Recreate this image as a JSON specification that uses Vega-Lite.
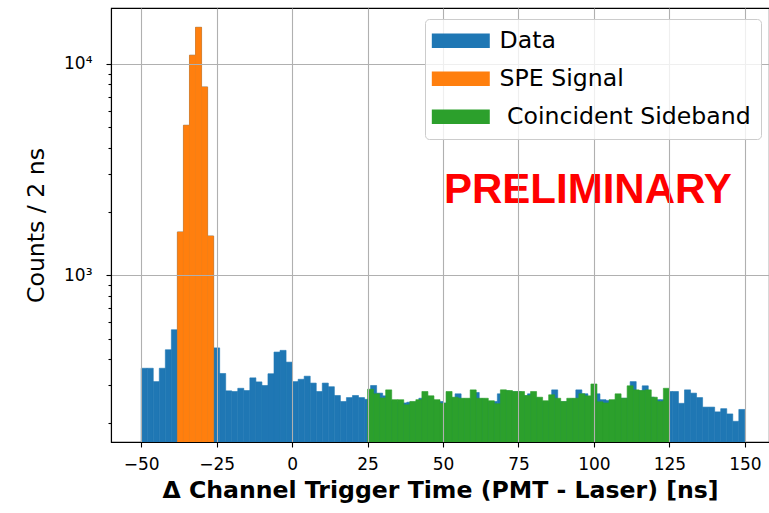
{
  "$schema": "https://vega.github.io/schema/vega-lite/v6.json",
  "width": 658,
  "height": 434,
  "autosize": {"type": "none"},
  "padding": {"left": 111, "top": 8, "right": 0, "bottom": 71},
  "background": "white",
  "config": {
    "view": {"stroke": "black", "strokeWidth": 1.1},
    "font": "DejaVu Sans",
    "axis": {"labelFont": "DejaVu Sans", "titleFont": "DejaVu Sans"}
  },
  "datasets": {
    "hist": [
      {"series": "Data", "start": -50, "end": -48, "count": 362},
      {"series": "Data", "start": -48, "end": -46, "count": 362},
      {"series": "Data", "start": -46, "end": -44, "count": 313},
      {"series": "Data", "start": -44, "end": -42, "count": 362},
      {"series": "Data", "start": -42, "end": -40, "count": 443},
      {"series": "Data", "start": -40, "end": -38, "count": 551},
      {"series": "Data", "start": -38, "end": -36, "count": 1600},
      {"series": "Data", "start": -36, "end": -34, "count": 5120},
      {"series": "Data", "start": -34, "end": -32, "count": 10990},
      {"series": "Data", "start": -32, "end": -30, "count": 14900},
      {"series": "Data", "start": -30, "end": -28, "count": 7780},
      {"series": "Data", "start": -28, "end": -26, "count": 1531},
      {"series": "Data", "start": -26, "end": -24, "count": 452},
      {"series": "Data", "start": -24, "end": -22, "count": 342},
      {"series": "Data", "start": -22, "end": -20, "count": 283},
      {"series": "Data", "start": -20, "end": -18, "count": 281},
      {"series": "Data", "start": -18, "end": -16, "count": 291},
      {"series": "Data", "start": -16, "end": -14, "count": 284},
      {"series": "Data", "start": -14, "end": -12, "count": 326},
      {"series": "Data", "start": -12, "end": -10, "count": 312},
      {"series": "Data", "start": -10, "end": -8, "count": 300},
      {"series": "Data", "start": -8, "end": -6, "count": 341},
      {"series": "Data", "start": -6, "end": -4, "count": 432},
      {"series": "Data", "start": -4, "end": -2, "count": 440},
      {"series": "Data", "start": -2, "end": 0, "count": 387},
      {"series": "Data", "start": 0, "end": 2, "count": 313},
      {"series": "Data", "start": 2, "end": 4, "count": 321},
      {"series": "Data", "start": 4, "end": 6, "count": 332},
      {"series": "Data", "start": 6, "end": 8, "count": 308},
      {"series": "Data", "start": 8, "end": 10, "count": 281},
      {"series": "Data", "start": 10, "end": 12, "count": 308},
      {"series": "Data", "start": 12, "end": 14, "count": 296},
      {"series": "Data", "start": 14, "end": 16, "count": 269},
      {"series": "Data", "start": 16, "end": 18, "count": 252},
      {"series": "Data", "start": 18, "end": 20, "count": 263},
      {"series": "Data", "start": 20, "end": 22, "count": 269},
      {"series": "Data", "start": 22, "end": 24, "count": 263},
      {"series": "Data", "start": 24, "end": 26, "count": 258},
      {"series": "Data", "start": 26, "end": 28, "count": 300},
      {"series": "Data", "start": 28, "end": 30, "count": 276},
      {"series": "Data", "start": 30, "end": 32, "count": 268},
      {"series": "Data", "start": 32, "end": 34, "count": 254},
      {"series": "Data", "start": 34, "end": 36, "count": 251},
      {"series": "Data", "start": 36, "end": 38, "count": 248},
      {"series": "Data", "start": 38, "end": 40, "count": 250},
      {"series": "Data", "start": 40, "end": 42, "count": 250},
      {"series": "Data", "start": 42, "end": 44, "count": 261},
      {"series": "Data", "start": 44, "end": 46, "count": 265},
      {"series": "Data", "start": 46, "end": 48, "count": 254},
      {"series": "Data", "start": 48, "end": 50, "count": 252},
      {"series": "Data", "start": 50, "end": 52, "count": 248},
      {"series": "Data", "start": 52, "end": 54, "count": 262},
      {"series": "Data", "start": 54, "end": 56, "count": 274},
      {"series": "Data", "start": 56, "end": 58, "count": 259},
      {"series": "Data", "start": 58, "end": 60, "count": 259},
      {"series": "Data", "start": 60, "end": 62, "count": 278},
      {"series": "Data", "start": 62, "end": 64, "count": 259},
      {"series": "Data", "start": 64, "end": 66, "count": 252},
      {"series": "Data", "start": 66, "end": 68, "count": 252},
      {"series": "Data", "start": 68, "end": 70, "count": 274},
      {"series": "Data", "start": 70, "end": 72, "count": 283},
      {"series": "Data", "start": 72, "end": 74, "count": 280},
      {"series": "Data", "start": 74, "end": 76, "count": 280},
      {"series": "Data", "start": 76, "end": 78, "count": 268},
      {"series": "Data", "start": 78, "end": 80, "count": 274},
      {"series": "Data", "start": 80, "end": 82, "count": 262},
      {"series": "Data", "start": 82, "end": 84, "count": 252},
      {"series": "Data", "start": 84, "end": 86, "count": 252},
      {"series": "Data", "start": 86, "end": 88, "count": 286},
      {"series": "Data", "start": 88, "end": 90, "count": 251},
      {"series": "Data", "start": 90, "end": 92, "count": 251},
      {"series": "Data", "start": 92, "end": 94, "count": 259},
      {"series": "Data", "start": 94, "end": 96, "count": 286},
      {"series": "Data", "start": 96, "end": 98, "count": 274},
      {"series": "Data", "start": 98, "end": 100, "count": 266},
      {"series": "Data", "start": 100, "end": 102, "count": 274},
      {"series": "Data", "start": 102, "end": 104, "count": 257},
      {"series": "Data", "start": 104, "end": 106, "count": 255},
      {"series": "Data", "start": 106, "end": 108, "count": 255},
      {"series": "Data", "start": 108, "end": 110, "count": 261},
      {"series": "Data", "start": 110, "end": 112, "count": 261},
      {"series": "Data", "start": 112, "end": 114, "count": 313},
      {"series": "Data", "start": 114, "end": 116, "count": 283},
      {"series": "Data", "start": 116, "end": 118, "count": 299},
      {"series": "Data", "start": 118, "end": 120, "count": 264},
      {"series": "Data", "start": 120, "end": 122, "count": 257},
      {"series": "Data", "start": 122, "end": 124, "count": 257},
      {"series": "Data", "start": 124, "end": 126, "count": 281},
      {"series": "Data", "start": 126, "end": 128, "count": 281},
      {"series": "Data", "start": 128, "end": 130, "count": 247},
      {"series": "Data", "start": 130, "end": 132, "count": 286},
      {"series": "Data", "start": 132, "end": 134, "count": 276},
      {"series": "Data", "start": 134, "end": 136, "count": 263},
      {"series": "Data", "start": 136, "end": 138, "count": 237},
      {"series": "Data", "start": 138, "end": 140, "count": 237},
      {"series": "Data", "start": 140, "end": 142, "count": 225},
      {"series": "Data", "start": 142, "end": 144, "count": 233},
      {"series": "Data", "start": 144, "end": 146, "count": 220},
      {"series": "Data", "start": 146, "end": 148, "count": 203},
      {"series": "Data", "start": 148, "end": 150, "count": 231},
      {"series": "SPE Signal", "start": -38, "end": -36, "count": 1600},
      {"series": "SPE Signal", "start": -36, "end": -34, "count": 5120},
      {"series": "SPE Signal", "start": -34, "end": -32, "count": 10990},
      {"series": "SPE Signal", "start": -32, "end": -30, "count": 14900},
      {"series": "SPE Signal", "start": -30, "end": -28, "count": 7780},
      {"series": "SPE Signal", "start": -28, "end": -26, "count": 1531},
      {"series": "Coincident Sideband", "start": 25, "end": 27, "count": 288},
      {"series": "Coincident Sideband", "start": 27, "end": 29, "count": 274},
      {"series": "Coincident Sideband", "start": 29, "end": 31, "count": 262},
      {"series": "Coincident Sideband", "start": 31, "end": 33, "count": 286},
      {"series": "Coincident Sideband", "start": 33, "end": 35, "count": 257},
      {"series": "Coincident Sideband", "start": 35, "end": 37, "count": 257},
      {"series": "Coincident Sideband", "start": 37, "end": 39, "count": 243},
      {"series": "Coincident Sideband", "start": 39, "end": 41, "count": 252},
      {"series": "Coincident Sideband", "start": 41, "end": 43, "count": 257},
      {"series": "Coincident Sideband", "start": 43, "end": 45, "count": 281},
      {"series": "Coincident Sideband", "start": 45, "end": 47, "count": 268},
      {"series": "Coincident Sideband", "start": 47, "end": 49, "count": 257},
      {"series": "Coincident Sideband", "start": 49, "end": 51, "count": 247},
      {"series": "Coincident Sideband", "start": 51, "end": 53, "count": 281},
      {"series": "Coincident Sideband", "start": 53, "end": 55, "count": 264},
      {"series": "Coincident Sideband", "start": 55, "end": 57, "count": 261},
      {"series": "Coincident Sideband", "start": 57, "end": 59, "count": 261},
      {"series": "Coincident Sideband", "start": 59, "end": 61, "count": 286},
      {"series": "Coincident Sideband", "start": 61, "end": 63, "count": 261},
      {"series": "Coincident Sideband", "start": 63, "end": 65, "count": 261},
      {"series": "Coincident Sideband", "start": 65, "end": 67, "count": 254},
      {"series": "Coincident Sideband", "start": 67, "end": 69, "count": 246},
      {"series": "Coincident Sideband", "start": 69, "end": 71, "count": 286},
      {"series": "Coincident Sideband", "start": 71, "end": 73, "count": 284},
      {"series": "Coincident Sideband", "start": 73, "end": 75, "count": 281},
      {"series": "Coincident Sideband", "start": 75, "end": 77, "count": 281},
      {"series": "Coincident Sideband", "start": 77, "end": 79, "count": 269},
      {"series": "Coincident Sideband", "start": 79, "end": 81, "count": 281},
      {"series": "Coincident Sideband", "start": 81, "end": 83, "count": 264},
      {"series": "Coincident Sideband", "start": 83, "end": 85, "count": 254},
      {"series": "Coincident Sideband", "start": 85, "end": 87, "count": 271},
      {"series": "Coincident Sideband", "start": 87, "end": 89, "count": 261},
      {"series": "Coincident Sideband", "start": 89, "end": 91, "count": 252},
      {"series": "Coincident Sideband", "start": 91, "end": 93, "count": 261},
      {"series": "Coincident Sideband", "start": 93, "end": 95, "count": 261},
      {"series": "Coincident Sideband", "start": 95, "end": 97, "count": 274},
      {"series": "Coincident Sideband", "start": 97, "end": 99, "count": 268},
      {"series": "Coincident Sideband", "start": 99, "end": 101, "count": 305},
      {"series": "Coincident Sideband", "start": 101, "end": 103, "count": 251},
      {"series": "Coincident Sideband", "start": 103, "end": 105, "count": 248},
      {"series": "Coincident Sideband", "start": 105, "end": 107, "count": 257},
      {"series": "Coincident Sideband", "start": 107, "end": 109, "count": 274},
      {"series": "Coincident Sideband", "start": 109, "end": 111, "count": 261},
      {"series": "Coincident Sideband", "start": 111, "end": 113, "count": 299},
      {"series": "Coincident Sideband", "start": 113, "end": 115, "count": 286},
      {"series": "Coincident Sideband", "start": 115, "end": 117, "count": 284},
      {"series": "Coincident Sideband", "start": 117, "end": 119, "count": 286},
      {"series": "Coincident Sideband", "start": 119, "end": 121, "count": 264},
      {"series": "Coincident Sideband", "start": 121, "end": 123, "count": 252},
      {"series": "Coincident Sideband", "start": 123, "end": 125, "count": 291}
    ],
    "note": [
      {"start": 98, "count": 2200, "label": "PRELIMINARY"}
    ]
  },
  "encoding": {
    "x": {
      "field": "start",
      "type": "quantitative",
      "scale": {"domain": [-60, 158], "nice": false, "zero": false},
      "axis": {
        "title": "Δ Channel Trigger Time (PMT - Laser) [ns]",
        "titleFontSize": 23.6,
        "titleFontWeight": "bold",
        "titleColor": "black",
        "titlePadding": 6,
        "values": [-50, -25, 0, 25, 50, 75, 100, 125, 150],
        "format": "d",
        "labelExpr": "datum.value < 0 ? '−' + abs(datum.value) : datum.label",
        "labelFontSize": 17,
        "labelColor": "black",
        "labelPadding": 9,
        "labelOverlap": false,
        "labelFlush": false,
        "tickColor": "black",
        "tickWidth": 1.1,
        "tickSize": 5,
        "grid": true,
        "gridColor": "#b0b0b0",
        "gridWidth": 1.1,
        "domainColor": "black",
        "domainWidth": 1.1,
        "zindex": 1
      }
    },
    "y": {
      "field": "count",
      "type": "quantitative",
      "stack": null,
      "scale": {"type": "log", "domain": [162, 18400], "nice": false},
      "axis": {
        "title": "Counts / 2 ns",
        "titleFontSize": 23.6,
        "titleFontWeight": "normal",
        "titleColor": "black",
        "titlePadding": 15,
        "values": [200, 300, 400, 500, 600, 700, 800, 900, 1000, 2000, 3000, 4000, 5000, 6000, 7000, 8000, 9000, 10000],
        "labelExpr": "datum.value == 1000 ? '10³' : (datum.value == 10000 ? '10⁴' : '')",
        "labelFontSize": 17,
        "labelColor": "black",
        "labelPadding": 14,
        "labelOverlap": false,
        "tickColor": "black",
        "tickWidth": 1.1,
        "tickSize": {"condition": {"test": "datum.value == 1000 || datum.value == 10000", "value": 5}, "value": 3},
        "grid": true,
        "gridColor": "#b0b0b0",
        "gridWidth": 1.1,
        "gridOpacity": {"condition": {"test": "datum.value == 1000 || datum.value == 10000", "value": 1}, "value": 0},
        "domainColor": "black",
        "domainWidth": 1.1,
        "zindex": 1
      }
    }
  },
  "layer": [
    {
      "data": {"name": "hist"},
      "mark": {"type": "bar", "opacity": 1, "strokeWidth": 0.6},
      "encoding": {
        "x2": {"field": "end"},
        "y2": {"datum": 162},
        "stroke": {
          "field": "series",
          "type": "nominal",
          "scale": {"domain": ["Data", "SPE Signal", "Coincident Sideband"], "range": ["#1f77b4", "#ff7f0e", "#2ca02c"]},
          "legend": null
        },
        "color": {
          "field": "series",
          "type": "nominal",
          "sort": null,
          "scale": {"domain": ["Data", "SPE Signal", "Coincident Sideband"], "range": ["#1f77b4", "#ff7f0e", "#2ca02c"]},
          "legend": {
            "title": null,
            "orient": "none",
            "legendX": 314,
            "legendY": 11,
            "symbolType": "M-4,-1H4V1H-4Z",
            "symbolSize": 210,
            "symbolOffset": 14,
            "symbolStrokeWidth": 0,
            "symbolOpacity": 1,
            "labelFont": "DejaVu Sans",
            "labelFontSize": 23.6,
            "labelColor": "black",
            "labelOffset": 27,
            "labelLimit": 400,
            "rowPadding": 13,
            "padding": 10,
            "strokeColor": "#cccccc",
            "fillColor": "rgba(255,255,255,0.8)",
            "cornerRadius": 4,
            "zindex": 2,
            "labelExpr": "datum.label == 'Coincident Sideband' ? '\u200b\u00a0Coincident Sideband' : datum.label"
          }
        }
      }
    },
    {
      "data": {"name": "note"},
      "mark": {"type": "text", "font": "Liberation Sans", "fontWeight": "bold", "fontSize": 42, "color": "#ff0000", "align": "center", "baseline": "alphabetic"},
      "encoding": {
        "text": {"field": "label"}
      }
    }
  ]
}
